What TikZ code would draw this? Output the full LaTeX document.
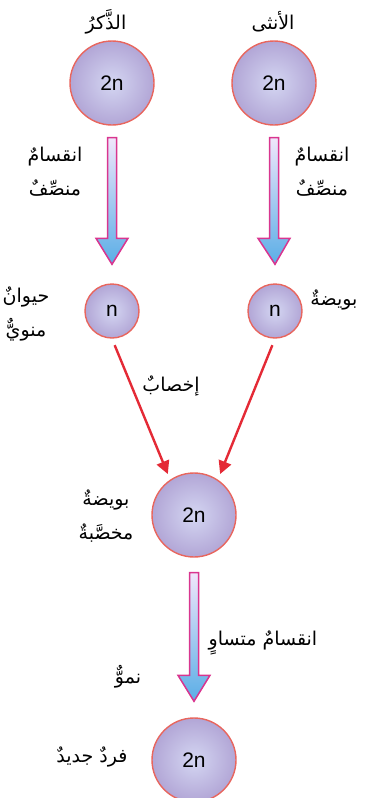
\documentclass[tikz,border=0pt]{standalone}
\usepackage{fontspec}
\setmainfont{Liberation Sans}
\newfontfamily\arabicfont[Script=Arabic]{DejaVu Sans}
\TeXXeTstate=1
\usetikzlibrary{arrows.meta,calc}
\newcommand{\rl}[1]{\beginR #1\endR}
\definecolor{cellin}{HTML}{D4D6F2}
\definecolor{cellout}{HTML}{B2A6D6}
\definecolor{cellrim}{HTML}{E8665E}
\definecolor{arrpink}{HTML}{D9358F}
\definecolor{shafttop}{HTML}{F0E6FB}
\definecolor{shaftbot}{HTML}{5AAEE6}
\definecolor{fertred}{HTML}{E42A36}
\begin{document}
\begin{tikzpicture}[
          x=1pt, y=-1pt,
          cell/.style={circle, draw=cellrim, line width=1.4pt, inner color=cellin, outer color=cellout,
                       inner sep=0pt, font=\fontsize{21}{24}\selectfont},
          big/.style={cell, minimum size=84pt},
          small/.style={cell, minimum size=54pt},
          lbl/.style={align=center, inner sep=1pt, font=\arabicfont\fontsize{19}{34}\selectfont},
          fat/.style={draw=arrpink, line width=1.5pt, line join=miter, top color=shafttop, bottom color=shaftbot,
                      to path={let \p1=(\tikztostart), \p2=(\tikztotarget) in
                        (\x1-4.5pt,\y1) -- (\x1+4.5pt,\y1) -- (\x1+4.5pt,\y2+26pt) -- (\x1+16pt,\y2+26pt)
                        -- (\x2,\y2) -- (\x1-16pt,\y2+26pt) -- (\x1-4.5pt,\y2+26pt) -- cycle}},
          fert/.style={-{Triangle[length=13pt,width=13pt]}, draw=fertred, line width=2.4pt,
                       shorten <=7pt, shorten >=6pt}
        ]
        \useasboundingbox (0,0) rectangle (366,798);
        \node[big] (male) at (112,83) {2n};
        \node[big] (female) at (274,83) {2n};
        \node[small] (sperm) at (112,311) {n};
        \node[small] (egg) at (275,311) {n};
        \node[big] (zyg) at (194,515) {2n};
        \node[big] (child) at (194,760) {2n};
        \node[lbl] (tmale) at (106,22) {\rl{الذَّكرُ}};
        \node[lbl] (tfemale) at (273,22) {\rl{الأنثى}};
        \node[lbl] (tmeil) at (55,172) {\rl{انقسامٌ}\\\rl{منصِّفٌ}};
        \node[lbl] (tmeir) at (322,172) {\rl{انقسامٌ}\\\rl{منصِّفٌ}};
        \node[lbl] (tsperm) at (26,314) {\rl{حيوانٌ}\\\rl{منويٌّ}};
        \node[lbl] (tegg) at (334,300) {\rl{بويضةٌ}};
        \node[lbl] (tfert) at (171,386) {\rl{إخصابٌ}};
        \node[lbl] (tzyg) at (106,516) {\rl{بويضةٌ}\\\rl{مخصَّبةٌ}};
        \node[lbl] (tmit) at (263,643) {\rl{انقسامٌ متساوٍ}};
        \node[lbl] (tgrow) at (128,677) {\rl{نموٌّ}};
        \node[lbl] (tchild) at (92,757) {\rl{فردٌ جديدٌ}};
        \coordinate (m1) at ($(male.south)+(0,12)$);
        \coordinate (m2) at ($(sperm.north)+(0,-19)$);
        \coordinate (f1) at ($(female.south)+(0,12)$);
        \coordinate (f2) at ($(egg.north)+(0,-19)$);
        \coordinate (z1) at ($(zyg.south)+(0,15)$);
        \coordinate (z2) at ($(child.north)+(0,-16)$);
        \draw[fat] (m1) to (m2);
        \draw[fat] (f1) to (f2);
        \draw[fat] (z1) to (z2);
        \draw[fert] (sperm.south) -- (zyg.124);
        \draw[fert] (egg.south) -- (zyg.56);
      \end{tikzpicture}
\end{document}
